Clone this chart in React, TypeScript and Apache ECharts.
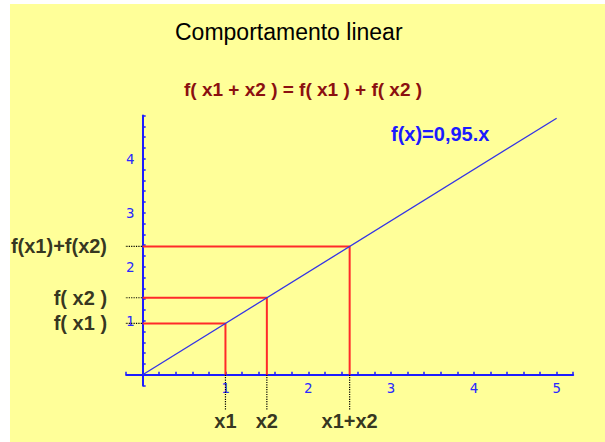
import React, { useEffect, useRef } from "react";
import * as echarts from "echarts";

const lineX = [0, 5];
const lineY = [0, 4.75];
const pointX = [1, 1.5, 2.5];
const pointF = [0.95, 1.425, 2.375];
const xNames = ["x1", "x2", "x1+x2"];
const fNames = ["f( x1 )", "f( x2 )", "f(x1)+f(x2)"];
const titleText = "Comportamento linear";
const subtitleText = "f( x1 + x2 ) = f( x1 ) + f( x2 )";
const funcText = "f(x)=0,95.x";

const labelLeftX = -0.4;
const labelBottomY = -0.66;

export default function App() {
  const ref = useRef<HTMLDivElement>(null);
  useEffect(() => {
    document.body.style.margin = "0";
    const chart = echarts.init(ref.current!, null, { renderer: "svg" });
    const font = "'Liberation Sans', Arial, sans-serif";
    const series: any[] = [];
    series.push({
      type: "line",
      data: lineX.map((x, i) => [x, lineY[i]]),
      symbol: "none",
      lineStyle: { color: "#3434e6", width: 1.3 },
      z: 3,
    });
    pointX.forEach((x, i) => {
      const f = pointF[i];
      series.push({
        type: "line",
        data: [[0, f], [x, f], [x, 0]],
        symbol: "none",
        lineStyle: { color: "#ff2a2a", width: 2 },
        z: 2,
      });
      series.push({
        type: "line",
        data: [[labelLeftX, f], [0, f]],
        symbol: "none",
        clip: false,
        lineStyle: { color: "#000", width: 1.2, type: [1.2, 1.2] },
      });
      series.push({
        type: "line",
        data: [[x, 0], [x, labelBottomY]],
        symbol: "none",
        clip: false,
        lineStyle: { color: "#000", width: 1.2, type: [1.2, 1.2] },
      });
    });
    series.push({
      type: "scatter",
      clip: false,
      symbolSize: 1,
      itemStyle: { color: "rgba(0,0,0,0)" },
      data: pointF.map((f, i) => ({ value: [labelLeftX, f], name: fNames[i] })),
      label: {
        show: true,
        position: "left",
        distance: 2,
        formatter: (p: any) => p.name,
        color: "#000",
        fontFamily: font,
        fontWeight: "bold",
        fontSize: 20,
      },
    });
    series.push({
      type: "scatter",
      clip: false,
      symbolSize: 1,
      itemStyle: { color: "rgba(0,0,0,0)" },
      data: pointX.map((x, i) => ({ value: [x, labelBottomY], name: xNames[i] })),
      label: {
        show: true,
        position: "bottom",
        distance: 0,
        formatter: (p: any) => p.name,
        color: "#000",
        fontFamily: font,
        fontWeight: "bold",
        fontSize: 20,
      },
    });
    const intLabel = (v: number) => {
      const r = Math.round(v);
      return Math.abs(v - r) < 1e-6 && r !== 0 ? String(r) : "";
    };
    const axisCommon = {
      type: "value",
      interval: 0.2,
      splitLine: { show: false },
      axisLine: { onZero: true, lineStyle: { color: "#1c1cff", width: 2 } },
      axisTick: { show: true, inside: true, length: 3, lineStyle: { color: "#1c1cff", width: 1.5 } },
    };
    const labelStyle = {
      formatter: intLabel,
      color: "#2a2aff",
      fontFamily: "'DejaVu Sans Mono', 'Liberation Mono', monospace",
      fontSize: 14,
    };
    chart.setOption({
      animation: false,
      graphic: [
        {
          type: "rect",
          z: -100,
          silent: true,
          shape: { x: 10, y: 4, width: 600, height: 440 },
          style: { fill: "#ffff99" },
        },
      ],
      title: [
        {
          text: titleText,
          left: 170,
          top: 15,
          textStyle: { fontFamily: font, fontSize: 23, fontWeight: "normal", color: "#000" },
        },
        {
          text: subtitleText,
          left: 179,
          top: 75,
          textStyle: { fontFamily: font, fontSize: 19, fontWeight: "bold", color: "#8b1010" },
        },
        {
          text: funcText,
          left: 386,
          top: 119,
          textStyle: { fontFamily: font, fontSize: 20, fontWeight: "bold", color: "#1a1aff" },
        },
      ],
      grid: { left: 126.1, right: 31.8, top: 115.5, bottom: 56.5, containLabel: false },
      xAxis: { ...axisCommon, min: -0.2, max: 5.2, axisLabel: { ...labelStyle, margin: -4.5 } },
      yAxis: { ...axisCommon, min: -0.2, max: 4.8, axisLabel: { ...labelStyle, margin: -8.4 } },
      series,
    });
    return () => chart.dispose();
  }, []);
  return (
    <div style={{ width: 605, height: 442, background: "#fff" }}>
      <div ref={ref} style={{ width: 605, height: 442 }} />
    </div>
  );
}
